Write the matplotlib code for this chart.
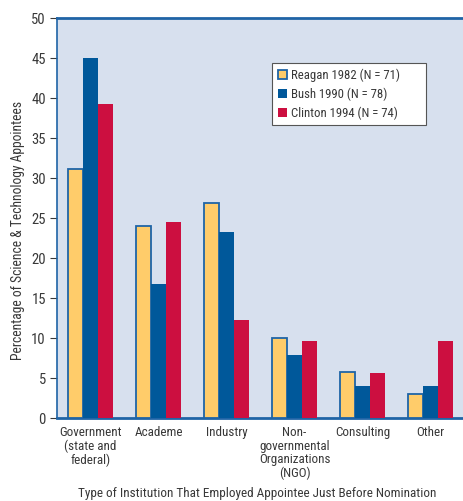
import matplotlib
matplotlib.use("Agg")
import matplotlib.pyplot as plt
import numpy as np

categories = ["Government\n(state and\nfederal)", "Academe", "Industry",
              "Non-\ngovernmental\nOrganizations\n(NGO)", "Consulting", "Other"]
reagan_1982 = [31.1, 24.0, 26.9, 10.0, 5.8, 3.0]
bush_1990 = [45.0, 16.8, 23.3, 7.9, 4.0, 4.0]
clinton_1994 = [39.3, 24.5, 12.3, 9.6, 5.6, 9.6]
series_labels = ["Reagan 1982 (N = 71)", "Bush 1990 (N = 78)", "Clinton 1994 (N = 74)"]
y_ticks = [0, 5, 10, 15, 20, 25, 30, 35, 40, 45, 50]

plt.rcParams["font.family"] = ["Roboto Condensed", "Archivo Narrow", "DejaVu Sans"]

yellow = "#FFCC6A"
blue = "#00589A"
red = "#CC0F40"
bg = "#D7E0EE"
spine_blue = "#1F64A6"
text_col = "#383838"

fig = plt.figure(figsize=(4.63, 5.01), dpi=100)
ax = fig.add_axes([57 / 463, (501 - 418) / 501, (463 - 57) / 463, 400 / 501])
ax.set_facecolor(bg)

x = np.arange(len(categories))
w = 15 / 68
ax.bar(x - w, reagan_1982, w, color=yellow, edgecolor=spine_blue, linewidth=1.3,
       label=series_labels[0], zorder=3)
ax.bar(x, bush_1990, w, color=blue, edgecolor="none", label=series_labels[1], zorder=3)
ax.bar(x + w, clinton_1994, w, color=red, edgecolor="none", label=series_labels[2], zorder=3)

ax.set_xlim(-0.493, len(categories) - 1 + 0.478)
ax.set_ylim(0, 50)
ax.set_yticks(y_ticks)
ax.set_yticklabels([str(t) for t in y_ticks], fontsize=10.5, color=text_col)
ax.set_xticks(x)
ax.set_xticklabels(categories, fontsize=9.4, color=text_col, linespacing=1.05)
ax.tick_params(axis="y", direction="out", length=5, width=0.8, color=text_col, pad=3)
ax.tick_params(axis="x", length=0, pad=6)

for side in ["left", "top", "bottom"]:
    ax.spines[side].set_color(spine_blue)
ax.spines["left"].set_linewidth(1.2)
ax.spines["top"].set_linewidth(2.0)
ax.spines["bottom"].set_linewidth(2.0)
ax.spines["right"].set_visible(False)

ax.set_ylabel("Percentage of Science & Technology Appointees", fontsize=9.8,
              color=text_col)
ax.yaxis.set_label_coords(-0.08, 0.47)
fig.text(257 / 463, 1 - 494 / 501,
         "Type of Institution That Employed Appointee Just Before Nomination",
         ha="center", va="center", fontsize=9.5, color=text_col)

# legend box spans a fixed region in axes coordinates
lx0 = (272 - 57) / 406
lx1 = (426 - 57) / 406
ly1 = (418 - 63) / 400
ly0 = (418 - 122) / 400
leg = ax.legend(loc="upper left", bbox_to_anchor=(lx0, ly0, lx1 - lx0, ly1 - ly0),
                mode="expand", fontsize=9.2, frameon=True, fancybox=False,
                handlelength=0.75, handleheight=0.75, handletextpad=0.3,
                borderpad=0.45, labelspacing=0.42, borderaxespad=0)
leg.get_frame().set_edgecolor("#555555")
leg.get_frame().set_linewidth(0.8)
leg.get_frame().set_facecolor("white")
leg.get_frame().set_alpha(1.0)
for t in leg.get_texts():
    t.set_color(text_col)

fig.savefig("out.png", dpi=100)
